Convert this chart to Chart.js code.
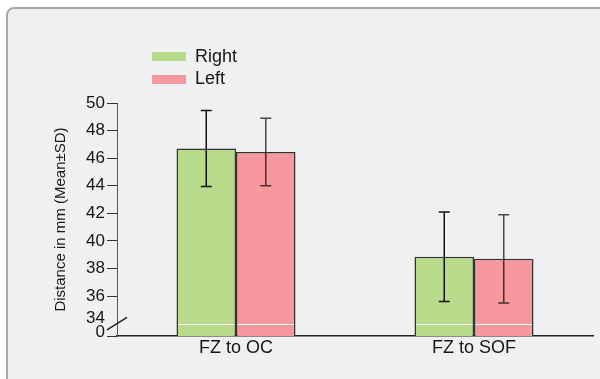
<!DOCTYPE html>
<html>
<head>
<meta charset="utf-8">
<script src="https://cdn.jsdelivr.net/npm/chart.js@4"></script>
<style>
  html, body { margin: 0; padding: 0; background: #fff; }
  #wrap { position: relative; width: 600px; height: 379px; overflow: hidden; }
  #card { position: absolute; left: 6px; top: 7px; width: 640px; height: 420px;
          border: 2px solid #a8a8a8; border-radius: 8px; background: #eff0f2; }
  canvas { position: absolute; left: 0; top: 0; }
</style>
</head>
<body>
<div id="wrap">
  <div id="card"></div>
  <canvas id="myChart" width="600" height="379"></canvas>
</div>
<script>
const categories = ['FZ to OC', 'FZ to SOF'];
const rightMean = [46.7, 38.85];
const rightSD = [2.75, 3.25];
const leftMean = [46.45, 38.7];
const leftSD = [2.45, 3.2];
const yTicks = [34, 36, 38, 40, 42, 44, 46, 48, 50];
const breakValue = 34;   // axis is broken between 0 and 34
const axisFloor = 33.1;  // where the "0" label sits below the break

const FONT = '"Liberation Sans", Arial, sans-serif';
const TEXT = '#161616';

const extras = {
  id: 'extras',
  afterDatasetsDraw(chart) {
    const ctx = chart.ctx;
    const y = chart.scales.y;
    const breakY = Math.round(y.getPixelForValue(breakValue)) + 0.5;
    ctx.save();
    chart.data.datasets.forEach((ds, i) => {
      chart.getDatasetMeta(i).data.forEach((bar, j) => {
        // white break line across the bar
        ctx.strokeStyle = '#ffffff';
        ctx.lineWidth = 1;
        ctx.beginPath();
        ctx.moveTo(bar.x - bar.width / 2 + 1.5, breakY);
        ctx.lineTo(bar.x + bar.width / 2 - 1.5, breakY);
        ctx.stroke();
        // error bar
        const top = y.getPixelForValue(ds.data[j] + ds.sd[j]);
        const bot = y.getPixelForValue(ds.data[j] - ds.sd[j]);
        ctx.strokeStyle = ds.errColor;
        ctx.lineWidth = 1.5;
        ctx.beginPath();
        ctx.moveTo(bar.x, top); ctx.lineTo(bar.x, bot);
        ctx.moveTo(bar.x - 5.5, top); ctx.lineTo(bar.x + 5.5, top);
        ctx.moveTo(bar.x - 5.5, bot); ctx.lineTo(bar.x + 5.5, bot);
        ctx.stroke();
      });
    });
    ctx.restore();
  },
  afterDraw(chart) {
    const ctx = chart.ctx;
    const y = chart.scales.y;
    const ax = chart.chartArea.left;
    const by = y.getPixelForValue(breakValue);
    ctx.save();
    // axis break slash
    ctx.strokeStyle = '#222';
    ctx.lineWidth = 1.5;
    ctx.beginPath();
    ctx.moveTo(ax - 10, by + 6.2);
    ctx.lineTo(ax + 10, by - 6.2);
    ctx.stroke();
    // legend, stacked
    ctx.font = '18px ' + FONT;
    ctx.textBaseline = 'middle';
    chart.data.datasets.forEach((ds, i) => {
      ctx.fillStyle = ds.backgroundColor;
      ctx.fillRect(152, 52 + i * 23, 34, 9);
      ctx.fillStyle = TEXT;
      ctx.fillText(ds.label, 195, 57.5 + i * 22);
    });
    ctx.restore();
  }
};

new Chart(document.getElementById('myChart'), {
  type: 'bar',
  data: {
    labels: categories,
    datasets: [
      { label: 'Right', data: rightMean, sd: rightSD, errColor: '#111',
        backgroundColor: '#b9d98b', borderColor: '#333', borderWidth: 1.5 },
      { label: 'Left', data: leftMean, sd: leftSD, errColor: 'rgba(0,0,0,0.7)',
        backgroundColor: '#f6989e', borderColor: '#333', borderWidth: 1.5 }
    ]
  },
  options: {
    responsive: false,
    devicePixelRatio: 1,
    animation: false,
    layout: { padding: { top: 103, left: 48, right: 7, bottom: 0 } },
    datasets: { bar: { categoryPercentage: 0.5, barPercentage: 1 } },
    plugins: { legend: { display: false }, tooltip: { enabled: false } },
    scales: {
      x: {
        grid: { display: false, drawTicks: false },
        border: { color: '#222', width: 1.5 },
        ticks: { color: TEXT, padding: 1, font: { family: FONT, size: 18 } },
        afterFit(scale) { scale.height = 43; }
      },
      y: {
        min: axisFloor,
        max: 50,
        afterBuildTicks(scale) {
          scale.ticks = [axisFloor].concat(yTicks).map(v => ({ value: v }));
        },
        afterFit(scale) { scale.width = 69; },
        grid: {
          drawOnChartArea: false,
          tickLength: 10,
          tickWidth: 1,
          tickColor: c => (c.tick && c.tick.value === breakValue) ? 'rgba(0,0,0,0)' : '#333'
        },
        border: { color: '#555', width: 1 },
        ticks: {
          color: TEXT,
          padding: 2,
          font: c => {
            const v = c.tick && c.tick.value;
            let lh = 1.2;
            if (v === breakValue) lh = 0.6;
            if (v === axisFloor) lh = 0.4;
            return { family: FONT, size: 17, lineHeight: lh };
          },
          callback: v => {
            if (v === axisFloor) return ['0', ''];
            if (v === breakValue) return ['34', ''];
            return String(v);
          }
        },
        title: {
          display: true,
          text: 'Distance in mm (Mean±SD)',
          color: TEXT,
          padding: 4,
          font: { family: FONT, size: 15 }
        }
      }
    }
  },
  plugins: [extras]
});
</script>
</body>
</html>
